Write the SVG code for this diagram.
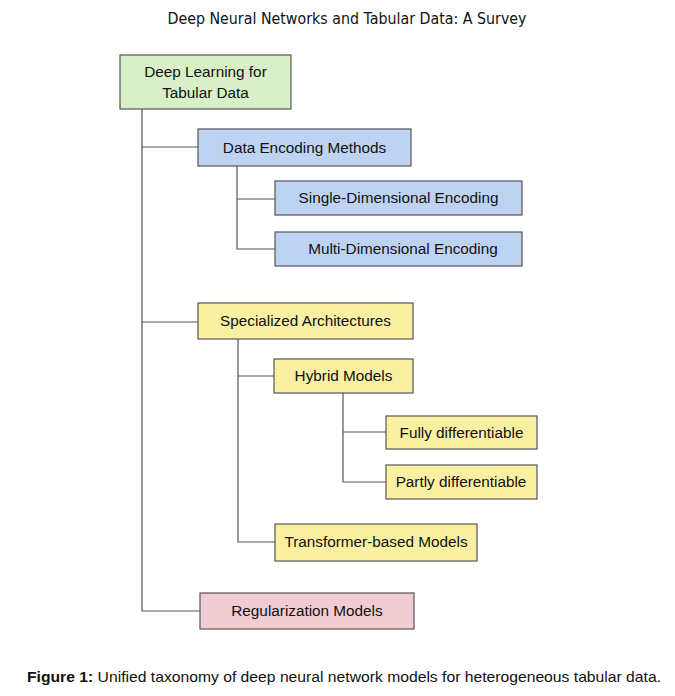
<svg xmlns="http://www.w3.org/2000/svg" width="675" height="696" viewBox="0 0 675 696">
<style>
.box{stroke:#555;stroke-width:1.2}
.g{fill:#d9efc7}.b{fill:#bed3f1}.y{fill:#f9f0a2}.p{fill:#f2ccd3}
.t{font-family:"Liberation Sans",Arial,sans-serif;font-size:15.3px;fill:#111;text-anchor:middle}
.c{fill:none;stroke:#555;stroke-width:1.2}
.h{font-family:"DejaVu Sans","Liberation Sans",sans-serif;font-size:15px;fill:#111}
.cap{font-family:"Liberation Sans",Arial,sans-serif;font-size:15px;fill:#111}
</style>
<rect width="675" height="696" fill="#fff"/>
<text class="h" x="347" y="24" text-anchor="middle" textLength="359" lengthAdjust="spacingAndGlyphs">Deep Neural Networks and Tabular Data: A Survey</text>
<g id="connectors">
<path class="c" d="M142 109V611H200M142 147H198M142 322H198"/>
<path class="c" d="M237 166V249H275M237 199H275"/>
<path class="c" d="M238 339V542H275M238 376H274"/>
<path class="c" d="M343 393V482H386M343 432H386"/>
</g>
<g id="root"><rect class="box g" x="120" y="55" width="171" height="54"/><text class="t" x="205.5" y="77">Deep Learning for</text><text class="t" x="205.5" y="98">Tabular Data</text></g>
<g id="data-encoding"><rect class="box b" x="198" y="129" width="213" height="37"/><text class="t" x="304.5" y="153">Data Encoding Methods</text></g>
<g id="single-dim"><rect class="box b" x="275" y="181" width="247" height="34"/><text class="t" x="398.5" y="203">Single-Dimensional Encoding</text></g>
<g id="multi-dim"><rect class="box b" x="275" y="232" width="247" height="34"/><text class="t" x="403" y="254">Multi-Dimensional Encoding</text></g>
<g id="specialized"><rect class="box y" x="198" y="303" width="215" height="36"/><text class="t" x="305.5" y="326">Specialized Architectures</text></g>
<g id="hybrid"><rect class="box y" x="274" y="359" width="139" height="34"/><text class="t" x="343.5" y="381">Hybrid Models</text></g>
<g id="fully"><rect class="box y" x="386" y="416" width="151" height="33"/><text class="t" x="461.5" y="438">Fully differentiable</text></g>
<g id="partly"><rect class="box y" x="386" y="465" width="151" height="34"/><text class="t" x="461" y="487">Partly differentiable</text></g>
<g id="transformer"><rect class="box y" x="275" y="524" width="202" height="37"/><text class="t" x="376" y="547">Transformer-based Models</text></g>
<g id="regularization"><rect class="box p" x="200" y="593" width="214" height="36"/><text class="t" x="307" y="616">Regularization Models</text></g>
<text class="cap" x="27" y="682" textLength="634" lengthAdjust="spacingAndGlyphs"><tspan font-weight="bold">Figure 1:</tspan> Unified taxonomy of deep neural network models for heterogeneous tabular data.</text>
</svg>
